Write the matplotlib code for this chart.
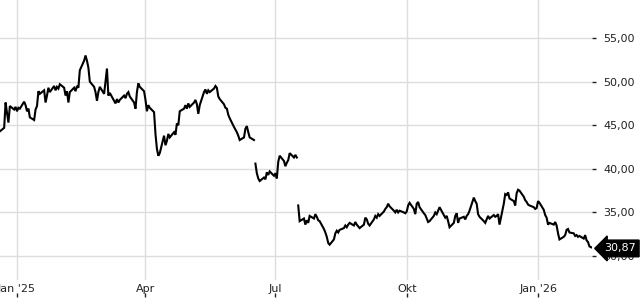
import matplotlib
matplotlib.use("Agg")
import matplotlib.pyplot as plt
import matplotlib.transforms as mtransforms
import numpy as np
import pandas as pd

start_date = "2024-12-20"
prices = [
    44.3, 44.7, 47.6, 46.4, 45.3, 47.2, 46.8, 47.1, 46.6, 47.0,
    46.9, 47.7, 47.3, 46.6, 46.9, 45.9, 45.6, 46.8, 47.2, 48.9,
    48.6, 49.0, 47.6, 48.4, 49.3, 48.8, 49.5, 49.0, 49.4, 49.2,
    49.7, 49.3, 48.4, 48.9, 47.6, 48.8, 49.3, 48.9, 49.5, 49.3,
    51.3, 52.4, 53.0, 52.4, 51.6, 50.0, 49.4, 48.8, 47.8, 48.8,
    49.4, 48.6, 50.0, 51.5, 48.4, 48.7, 47.8, 47.5, 48.0, 47.6,
    47.9, 48.4, 48.1, 48.6, 48.8, 48.3, 47.6, 46.9, 48.8, 49.8,
    49.4, 48.9, 47.9, 46.6, 47.3, 47.0, 46.5, 44.0, 42.3, 41.5,
    41.8, 43.8, 42.7, 43.2, 44.0, 43.6, 44.2, 43.9, 45.2, 45.0,
    46.6, 46.9, 47.3, 46.9, 47.5, 47.1, 47.6, 47.9, 47.4, 46.3,
    47.3, 48.8, 49.1, 48.6, 49.0, 48.8, 49.2, 49.5, 49.3, 48.3,
    48.0, 47.4, 47.0, 46.9, 46.2, 45.8, 44.8, 44.5, 44.2, 43.8,
    43.3, 43.6, 44.6, 44.9, 44.2, 43.6, 43.3, 40.6, 39.5, 38.9,
    38.6, 39.0, 38.8, 39.6, 39.3, 39.7, 39.2, 39.5, 38.9, 40.8,
    41.5, 40.9, 40.3, 40.7, 41.0, 41.8, 41.3, 41.6, 41.3, 35.8,
    34.0, 34.3, 33.6, 34.1, 33.8, 34.6, 34.3, 34.8, 34.5, 34.1,
    34.0, 33.1, 32.7, 32.2, 31.5, 31.3, 31.9, 32.6, 32.9, 32.7,
    33.0, 33.2, 33.5, 33.3, 33.6, 33.8, 33.5, 33.9, 33.6, 33.4,
    33.2, 33.6, 34.4, 34.2, 33.7, 33.5, 34.2, 34.6, 34.4, 34.8,
    34.6, 35.1, 35.4, 35.6, 36.0, 35.7, 35.2, 35.0, 35.3, 35.0,
    35.2, 35.0, 34.9, 35.1, 35.8, 36.1, 35.4, 34.8, 36.0, 36.2,
    35.6, 34.9, 34.7, 34.3, 33.9, 34.0, 34.6, 35.0, 34.8, 35.2,
    35.6, 34.7, 34.4, 34.6, 34.0, 33.3, 33.8, 34.6, 34.9, 33.8,
    34.3, 34.5, 34.2, 34.6, 34.8, 35.2, 36.7, 36.3, 36.0, 34.8,
    34.5, 34.0, 33.8, 34.2, 34.6, 34.3, 34.7, 34.5, 34.6, 34.8,
    33.6, 36.0, 37.1, 37.0, 37.3, 36.6, 36.3, 35.8, 37.2, 37.6,
    37.5, 36.8, 36.4, 36.2, 35.9, 35.8, 35.6, 35.4, 35.5, 36.3,
    36.1, 35.3, 34.7, 34.4, 33.6, 33.8, 33.6, 33.9, 33.5, 32.6,
    31.9, 32.2, 32.4, 33.0, 33.1, 32.7, 32.6, 32.3, 32.4, 32.2,
    32.3, 32.0, 32.4, 31.8, 31.6, 31.1, 30.87,
]
gap_after = [126, 148]  # price gaps drawn without connecting line
last_label = "30,87"
ytick_values = [30, 35, 40, 45, 50, 55]
ytick_labels = ["30,00", "35,00", "40,00", "45,00", "50,00", "55,00"]
xtick_dates = ["2025-01-01", "2025-04-01", "2025-07-01", "2025-10-01", "2026-01-01"]
xtick_labels = ["Jan '25", "Apr", "Jul", "Okt", "Jan '26"]

dates = pd.bdate_range(start=start_date, periods=len(prices))
vals = np.array(prices, dtype=float)

fig = plt.figure(figsize=(6.4, 3.0), dpi=100)
ax = fig.add_axes([0.0, 20 / 300, 592 / 640, 280 / 300])

bounds = [0] + [g + 1 for g in gap_after] + [len(vals)]
for a, b in zip(bounds[:-1], bounds[1:]):
    ax.plot(dates[a:b], vals[a:b], color="black", lw=1.5, solid_joinstyle="miter")

ax.set_ylim(27.25, 59.36)
ax.set_xlim(pd.Timestamp("2024-12-20 02:00"), pd.Timestamp("2026-02-07 19:00"))

ax.set_yticks(ytick_values)
ax.set_yticklabels(ytick_labels)
ax.yaxis.tick_right()
ax.tick_params(axis="y", length=3, width=1, pad=5, labelsize=8, colors="#222222")

xt = [pd.Timestamp(d) for d in xtick_dates]
ax.set_xticks(xt)
ax.set_xticklabels(xtick_labels)
ax.tick_params(axis="x", length=0, pad=3, labelsize=8, colors="#222222")

ax.grid(True, color="#dddddd", lw=1)
ax.set_axisbelow(True)
for s in ax.spines.values():
    s.set_visible(False)

sec = ax.secondary_xaxis(-0.047)
sec.set_xticks(xt)
sec.set_xticklabels([""] * len(xt))
sec.tick_params(axis="x", length=3, width=1, colors="#222222")
for s in sec.spines.values():
    s.set_visible(False)

trans = mtransforms.blended_transform_factory(ax.transAxes, ax.transData)
ax.text(1.0 + 12 / 592, vals[-1], last_label, transform=trans, ha="left", va="center",
        fontsize=8, color="white", clip_on=False,
        bbox=dict(boxstyle="larrow,pad=0.3", fc="black", ec="black"))

fig.savefig("out.png", dpi=100)
